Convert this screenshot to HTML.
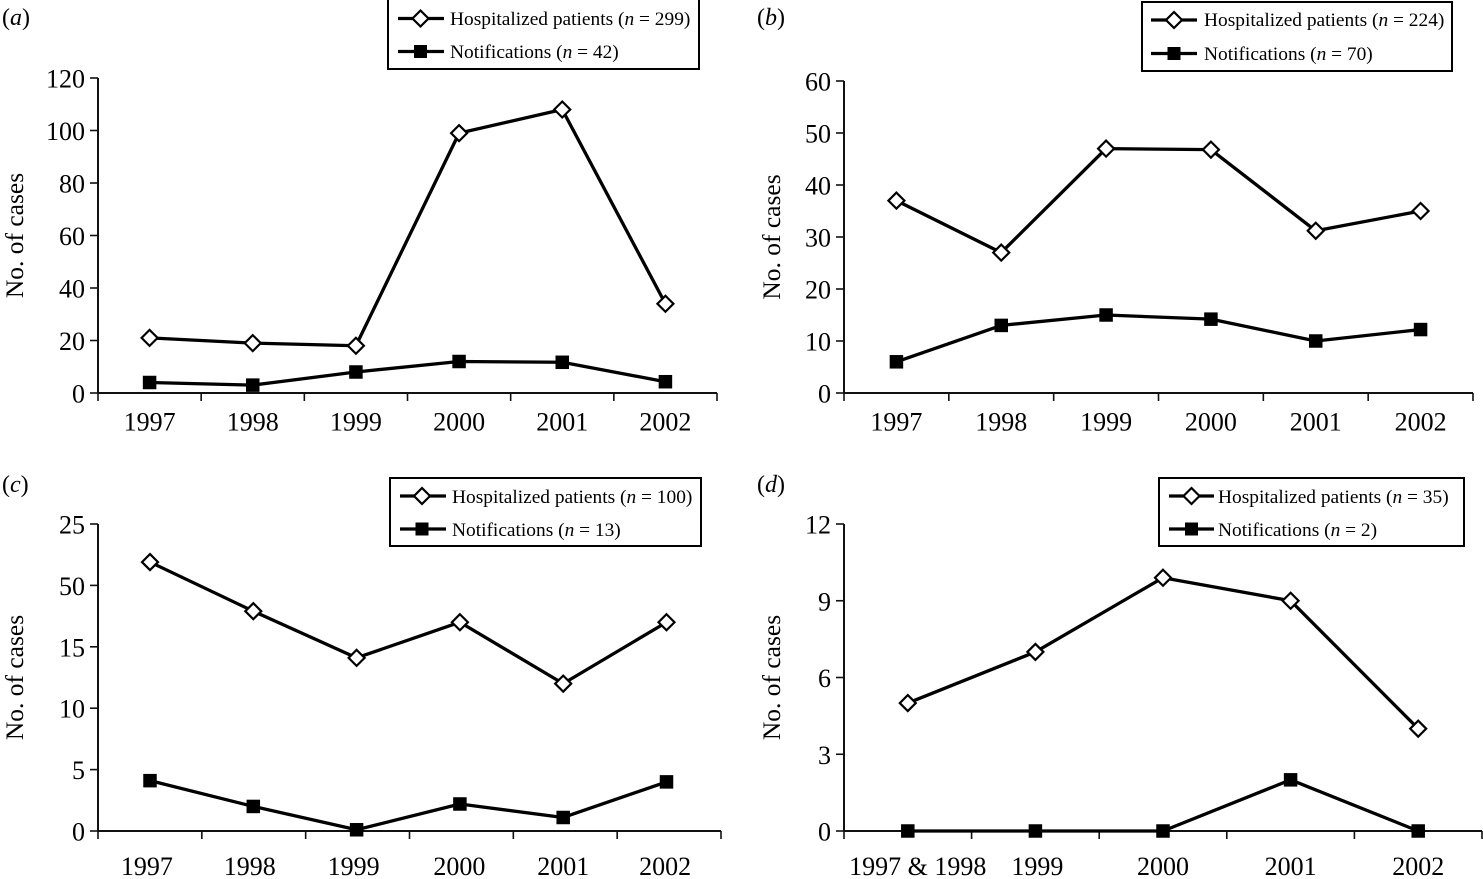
<!DOCTYPE html>
<html lang="en">
<head>
<meta charset="utf-8">
<title>Cases by year</title>
<style>
html,body{margin:0;padding:0;background:#fff;width:1483px;height:879px;overflow:hidden}
svg{display:block;font-family:"Liberation Serif",serif;fill:#000}
.tick-text{font-size:26px}
.legend-text{font-size:19.4px}
.axis-title{font-size:25.5px}
.panel-label{font-size:24px}
</style>
</head>
<body>
<svg id="chart" xmlns="http://www.w3.org/2000/svg" width="1483" height="879" viewBox="0 0 1483 879">
  <g>
    <rect x="388" y="-1" width="311" height="70" fill="#fff" stroke="#000" stroke-width="2"/>
    <line x1="398" x2="444" y1="18.5" y2="18.5" stroke="#000" stroke-width="3.3"/>
    <polygon points="420.5,10.5 428.5,18.5 420.5,26.5 412.5,18.5" fill="#fff" stroke="#000" stroke-width="2.2"/>
    <line x1="398" x2="444" y1="51.5" y2="51.5" stroke="#000" stroke-width="3.3"/>
    <rect x="414" y="45" width="13" height="13" fill="#000"/>
    <text class="legend-text" x="450" y="25">Hospitalized patients (<tspan font-style="italic">n</tspan> = 299)</text>
    <text class="legend-text" x="450" y="58">Notifications (<tspan font-style="italic">n</tspan> = 42)</text>
  </g>
  <g>
    <rect x="1142" y="2" width="310" height="69" fill="#fff" stroke="#000" stroke-width="2"/>
    <line x1="1151" x2="1197" y1="20" y2="20" stroke="#000" stroke-width="3.3"/>
    <polygon points="1174,12 1182,20 1174,28 1166,20" fill="#fff" stroke="#000" stroke-width="2.2"/>
    <line x1="1151" x2="1197" y1="53.5" y2="53.5" stroke="#000" stroke-width="3.3"/>
    <rect x="1167.5" y="47" width="13" height="13" fill="#000"/>
    <text class="legend-text" x="1204" y="26">Hospitalized patients (<tspan font-style="italic">n</tspan> = 224)</text>
    <text class="legend-text" x="1204" y="60">Notifications (<tspan font-style="italic">n</tspan> = 70)</text>
  </g>
  <g>
    <rect x="390" y="478" width="311" height="68" fill="#fff" stroke="#000" stroke-width="2"/>
    <line x1="400" x2="446" y1="496" y2="496" stroke="#000" stroke-width="3.3"/>
    <polygon points="422,488 430,496 422,504 414,496" fill="#fff" stroke="#000" stroke-width="2.2"/>
    <line x1="400" x2="446" y1="529" y2="529" stroke="#000" stroke-width="3.3"/>
    <rect x="415.5" y="522.5" width="13" height="13" fill="#000"/>
    <text class="legend-text" x="452" y="503">Hospitalized patients (<tspan font-style="italic">n</tspan> = 100)</text>
    <text class="legend-text" x="452" y="536">Notifications (<tspan font-style="italic">n</tspan> = 13)</text>
  </g>
  <g>
    <rect x="1159" y="478" width="305" height="68" fill="#fff" stroke="#000" stroke-width="2"/>
    <line x1="1169" x2="1214" y1="496" y2="496" stroke="#000" stroke-width="3.3"/>
    <polygon points="1191.5,488 1199.5,496 1191.5,504 1183.5,496" fill="#fff" stroke="#000" stroke-width="2.2"/>
    <line x1="1169" x2="1214" y1="529" y2="529" stroke="#000" stroke-width="3.3"/>
    <rect x="1185" y="522.5" width="13" height="13" fill="#000"/>
    <text class="legend-text" x="1218" y="503">Hospitalized patients (<tspan font-style="italic">n</tspan> = 35)</text>
    <text class="legend-text" x="1218" y="536">Notifications (<tspan font-style="italic">n</tspan> = 2)</text>
  </g>
</svg>
<script>
// Panel (a)
const categoriesA = ['1997', '1998', '1999', '2000', '2001', '2002'];
const hospitalizedA = [21, 19, 18, 99, 108, 34];
const notificationsA = [4, 3, 8, 12, 11.7, 4.3];
const tickValuesA = [0, 20, 40, 60, 80, 100, 120];
const tickLabelsA = ['0', '20', '40', '60', '80', '100', '120'];

// Panel (b)
const categoriesB = ['1997', '1998', '1999', '2000', '2001', '2002'];
const hospitalizedB = [37, 27, 47, 46.8, 31.2, 35];
const notificationsB = [6, 13, 15, 14.2, 10, 12.2];
const tickValuesB = [0, 10, 20, 30, 40, 50, 60];
const tickLabelsB = ['0', '10', '20', '30', '40', '50', '60'];

// Panel (c) - the "50" tick label is printed that way in the source figure
const categoriesC = ['1997', '1998', '1999', '2000', '2001', '2002'];
const hospitalizedC = [21.9, 17.9, 14.1, 17, 12, 17];
const notificationsC = [4.1, 2, 0.1, 2.2, 1.1, 4];
const tickValuesC = [0, 5, 10, 15, 20, 25];
const tickLabelsC = ['0', '5', '10', '15', '50', '25'];

// Panel (d)
const categoriesD = ['1997 & 1998', '1999', '2000', '2001', '2002'];
const hospitalizedD = [5, 7, 9.9, 9, 4];
const notificationsD = [0, 0, 0, 2, 0];
const tickValuesD = [0, 3, 6, 9, 12];
const tickLabelsD = ['0', '3', '6', '9', '12'];

const NS = 'http://www.w3.org/2000/svg';
const root = document.getElementById('chart');

function make(parent, tag, attrs, text) {
  const el = document.createElementNS(NS, tag);
  for (const k in attrs) el.setAttribute(k, attrs[k]);
  if (text !== undefined) el.textContent = text;
  parent.appendChild(el);
  return el;
}

function drawPanel(p) {
  const g = make(root, 'g', {});
  
  
  root.insertBefore(g, root.firstChild);

  const maxV = p.tickValues[p.tickValues.length - 1];
  const yScale = function (v) { return p.y0 - (v / maxV) * (p.y0 - p.yTop); };
  const band = (p.x1 - p.x0) / p.categories.length;
  const step = p.pointStep || band;
  const firstX = p.firstPoint || (p.x0 + band / 2);
  const xScale = function (i) { return firstX + step * i; };

  const label = make(g, 'text', { class: 'panel-label', x: p.labelX, y: p.labelY });
  
  
  label.textContent = '(';
  make(label, 'tspan', { 'font-style': 'italic' }, p.id);
  make(label, 'tspan', {}, ')');

  const title = make(g, 'text', {
    class: 'axis-title', 'text-anchor': 'middle',
    transform: 'translate(' + p.titleX + ' ' + ((p.y0 + p.yTop) / 2 + p.titleShift) + ') rotate(-90)'
  }, 'No. of cases');
  
  

  const yAxis = make(g, 'line', { x1: p.x0, x2: p.x0, y1: p.yTop, y2: p.y0, stroke: '#111', 'stroke-width': 2 });
  
  

  const xAxis = make(g, 'line', { x1: p.x0, x2: p.x1, y1: p.y0, y2: p.y0, stroke: '#111', 'stroke-width': 2 });
  
  

  p.tickValues.forEach(function (v, i) {
    const y = yScale(v);
    const t = make(g, 'line', { x1: p.x0 - 8, x2: p.x0, y1: y, y2: y, stroke: '#111', 'stroke-width': 1.6 });
    
    
    const l = make(g, 'text', { class: 'tick-text', x: p.x0 - 13, y: y + 9.5, 'text-anchor': 'end' }, p.tickLabels[i]);
    
    
  });

  for (let i = 0; i <= p.categories.length; i++) {
    const x = p.x0 + band * i;
    const t = make(g, 'line', { x1: x, x2: x, y1: p.y0, y2: p.y0 + 8, stroke: '#111', 'stroke-width': 1.6 });
    
    
  }

  p.categories.forEach(function (c, i) {
    const l = make(g, 'text', { class: 'tick-text', x: p.x0 + band * (i + 0.5) + (p.labelOffsets ? p.labelOffsets[i] : 0), y: p.y0 + p.labelDrop, 'text-anchor': 'middle' }, c);
    
    
  });

  const linePoints = function (vals) {
    return vals.map(function (v, i) { return xScale(i) + ',' + yScale(v); }).join(' ');
  };

  const hospLine = make(g, 'polyline', { points: linePoints(p.hospitalized), fill: 'none', stroke: '#000', 'stroke-width': 3.3, 'stroke-linejoin': 'round' });
  
  

  const notifLine = make(g, 'polyline', { points: linePoints(p.notifications), fill: 'none', stroke: '#000', 'stroke-width': 3.3, 'stroke-linejoin': 'round' });
  
  

  p.hospitalized.forEach(function (v, i) {
    const x = xScale(i), y = yScale(v), r = 8;
    const m = make(g, 'polygon', {
      points: x + ',' + (y - r) + ' ' + (x + r) + ',' + y + ' ' + x + ',' + (y + r) + ' ' + (x - r) + ',' + y,
      fill: '#fff', stroke: '#000', 'stroke-width': 2.2
    });
    
    
  });

  p.notifications.forEach(function (v, i) {
    const m = make(g, 'rect', { x: xScale(i) - 6.75, y: yScale(v) - 6.75, width: 13.5, height: 13.5, fill: '#000' });
    
    
  });
}

drawPanel({ id: 'a', x0: 98, x1: 717, y0: 393, yTop: 78, labelX: 2, labelY: 25, titleX: 23, titleShift: 0, labelDrop: 37.5,
  categories: categoriesA, hospitalized: hospitalizedA, notifications: notificationsA, tickValues: tickValuesA, tickLabels: tickLabelsA });
drawPanel({ id: 'b', x0: 844, x1: 1473, y0: 393, yTop: 81, labelX: 757, labelY: 25, titleX: 780, titleShift: 0, labelDrop: 37.5,
  categories: categoriesB, hospitalized: hospitalizedB, notifications: notificationsB, tickValues: tickValuesB, tickLabels: tickLabelsB });
drawPanel({ id: 'c', x0: 98, x1: 721, y0: 831, yTop: 524, labelX: 2, labelY: 492, titleX: 23, titleShift: 0, labelDrop: 44,
  firstPoint: 150, pointStep: 103.3, labelOffsets: [-3, -4, -4, -2, -2, -4],
  categories: categoriesC, hospitalized: hospitalizedC, notifications: notificationsC, tickValues: tickValuesC, tickLabels: tickLabelsC });
drawPanel({ id: 'd', x0: 844, x1: 1482, y0: 831, yTop: 524, labelX: 757, labelY: 492, titleX: 780, titleShift: 0, labelDrop: 44,
  labelOffsets: [10, 2, 0, 0, 0],
  categories: categoriesD, hospitalized: hospitalizedD, notifications: notificationsD, tickValues: tickValuesD, tickLabels: tickLabelsD });
</script>
</body>
</html>
